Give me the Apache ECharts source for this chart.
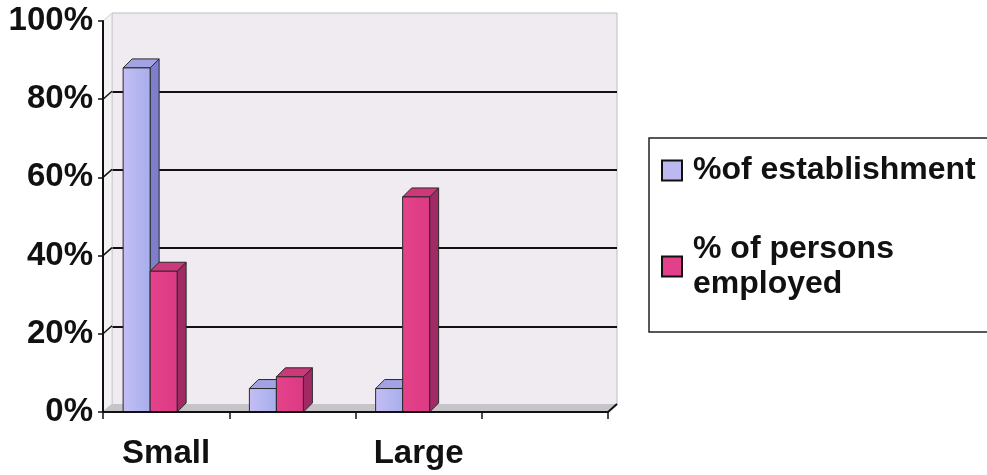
<!DOCTYPE html>
<html><head><meta charset="utf-8">
<script src="https://cdn.jsdelivr.net/npm/echarts@6/dist/echarts.min.js"></script>
<style>html,body{margin:0;padding:0;background:#fff}#c{width:987px;height:475px}</style>
</head><body><div id="c"></div>
<script>
// ---- data ----
const categories = ['Small', 'Medium', 'Large', ''];
const establishment = [88, 6, 6, null];
const personsEmployed = [36, 9, 55, null];
const yTicks = [0, 20, 40, 60, 80, 100];
const seriesNames = ['%of establishment', '% of persons employed'];

// ---- styles ----
const FONT = 'Liberation Sans, Arial, sans-serif';
const DX = 9, DY = -9;          // bar depth
const WDX = 9, WDY = -8;        // wall depth
const BAR_W = 27;
const EDGE = '#2a2a2a';
const blueFaces = {
  front: new echarts.graphic.LinearGradient(0, 0, 1, 0, [{offset: 0, color: '#C4BEF4'}, {offset: 1, color: '#A6AEEC'}]),
  side: '#7E7ECA', top: '#A2A2E4'
};
const pinkFaces = {
  front: new echarts.graphic.LinearGradient(0, 0, 1, 0, [{offset: 0, color: '#E6428C'}, {offset: 1, color: '#DC3A84'}]),
  side: '#A22A64', top: '#CC387A'
};

function bar3d(offset, faces) {
  return function (params, api) {
    const v = api.value(1);
    if (v == null || isNaN(v)) return;
    const top = api.coord([api.value(0), v]);
    const base = api.coord([api.value(0), 0]);
    const x0 = top[0] + offset, w = BAR_W, yT = top[1], yB = base[1];
    return {type: 'group', children: [
      {type: 'polygon', shape: {points: [[x0 + w, yT], [x0 + w + DX, yT + DY], [x0 + w + DX, yB + DY], [x0 + w, yB]]},
        style: {fill: faces.side, stroke: EDGE, lineWidth: 1}},
      {type: 'polygon', shape: {points: [[x0, yT], [x0 + DX, yT + DY], [x0 + w + DX, yT + DY], [x0 + w, yT]]},
        style: {fill: faces.top, stroke: EDGE, lineWidth: 1}},
      {type: 'rect', shape: {x: x0, y: yT, width: w, height: yB - yT},
        style: {fill: faces.front, stroke: EDGE, lineWidth: 1}}
    ]};
  };
}

const chart = echarts.init(document.getElementById('c'));
chart.setOption({
  backgroundColor: '#ffffff',
  animation: false,
  grid: [
    {left: 103, top: 21, right: 379, bottom: 63},
    {left: 112, top: 13, right: 370, bottom: 70, show: true, backgroundColor: '#EFEBF1', borderColor: '#BEBEC4', borderWidth: 1, z: -1}
  ],
  xAxis: [
    {type: 'category', gridIndex: 0, data: categories, boundaryGap: true, z: 5,
      axisLine: {lineStyle: {color: '#111', width: 2}},
      axisTick: {show: true, interval: 0, alignWithLabel: false, length: 7, lineStyle: {color: '#111', width: 1.5}},
      axisLabel: {interval: 1, margin: 25, color: '#111', fontFamily: FONT, fontWeight: 'bold', fontSize: 33},
      splitLine: {show: false}},
    {type: 'category', gridIndex: 1, data: categories, show: false}
  ],
  yAxis: [
    {type: 'value', gridIndex: 0, min: 0, max: 100, interval: 20, z: 5,
      axisLine: {show: true, lineStyle: {color: '#111', width: 2}},
      axisTick: {show: true, length: 5, lineStyle: {color: '#111', width: 1.5}},
      axisLabel: {formatter: '{value}%', margin: 10, color: '#111', fontFamily: FONT, fontWeight: 'bold', fontSize: 33},
      splitLine: {show: false}},
    {type: 'value', gridIndex: 1, min: 0, max: 100, interval: 20,
      axisLine: {show: false}, axisTick: {show: false}, axisLabel: {show: false},
      splitLine: {show: true, showMinLine: false, showMaxLine: false, lineStyle: {color: '#111', width: 2}}}
  ],
  legend: {
    orient: 'vertical', left: 649, top: 138, padding: [15, 16, 13, 12], itemGap: 26,
    itemWidth: 20, itemHeight: 20, icon: 'rect',
    borderColor: '#222', borderWidth: 1.5, backgroundColor: '#ffffff',
    textStyle: {fontFamily: FONT, fontWeight: 'bold', fontSize: 32, color: '#111', lineHeight: 35, padding: [0, 0, 0, 6]},
    data: [
      {name: seriesNames[0], itemStyle: {color: '#BCB8F0', borderColor: '#111', borderWidth: 2}},
      {name: seriesNames[1], itemStyle: {color: '#E2408A', borderColor: '#111', borderWidth: 2},
        textStyle: {width: 220, overflow: 'break', padding: [35, 0, 0, 6]}}
    ]
  },
  series: [
    { // floor, side wall and tick connectors
      type: 'custom', name: 'walls', xAxisIndex: 0, yAxisIndex: 0, z: 1, silent: true,
      data: yTicks.map(t => [0, t]),
      encode: {x: 0, y: 1},
      renderItem: function (params, api) {
        const cs = params.coordSys;
        const y = api.coord([0, api.value(1)])[1];
        const children = [];
        if (params.dataIndex === 0) {
          const yb = cs.y + cs.height;
          children.push({type: 'polygon', shape: {points: [[cs.x, cs.y], [cs.x + WDX, cs.y + WDY], [cs.x + WDX, yb + WDY], [cs.x, yb]]},
            style: {fill: '#F4F2F4', stroke: '#D0D0D4', lineWidth: 1}});
          children.push({type: 'polygon', shape: {points: [[cs.x, yb - 1], [cs.x + cs.width, yb - 1], [cs.x + cs.width + WDX, yb + WDY], [cs.x + WDX, yb + WDY]]},
            style: {fill: '#C6C4C8'}});
          children.push({type: 'line', shape: {x1: cs.x + cs.width, y1: yb, x2: cs.x + cs.width + WDX, y2: yb + WDY},
            style: {stroke: '#111', lineWidth: 2}});
        } else if (api.value(1) < 100) {
          children.push({type: 'line', shape: {x1: cs.x, y1: y, x2: cs.x + WDX, y2: y + WDY},
            style: {stroke: '#111', lineWidth: 1.5}});
        }
        return {type: 'group', children: children};
      }
    },
    {
      type: 'custom', name: seriesNames[0], xAxisIndex: 0, yAxisIndex: 0, z: 3,
      itemStyle: {color: '#BCB8F0'},
      data: categories.map((c, i) => [i, establishment[i]]),
      encode: {x: 0, y: 1},
      renderItem: bar3d(-43, blueFaces)
    },
    {
      type: 'custom', name: seriesNames[1], xAxisIndex: 0, yAxisIndex: 0, z: 3,
      itemStyle: {color: '#E2408A'},
      data: categories.map((c, i) => [i, personsEmployed[i]]),
      encode: {x: 0, y: 1},
      renderItem: bar3d(-16, pinkFaces)
    }
  ]
});
</script>
</body></html>
